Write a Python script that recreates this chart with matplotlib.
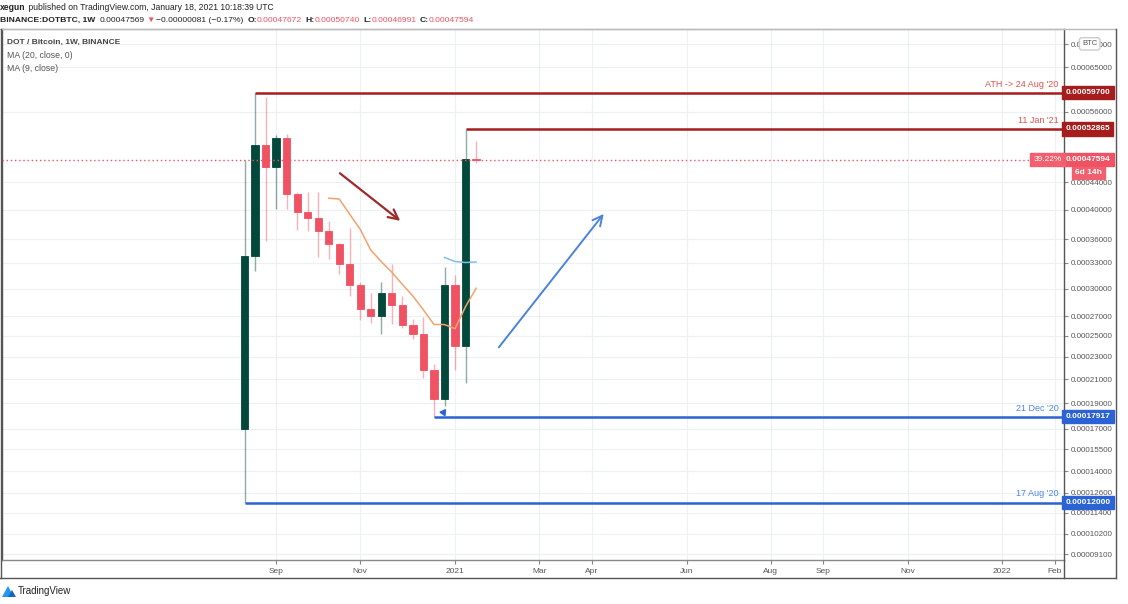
import matplotlib
matplotlib.use('Agg')
import matplotlib.pyplot as plt
import matplotlib.dates as mdates
from matplotlib.lines import Line2D
from matplotlib.patches import Polygon
import numpy as np
import pandas as pd

plt.rcParams['font.family'] = ['Liberation Sans', 'DejaVu Sans']

# DOT/BTC weekly candles (Binance, 1W)
weeks = pd.date_range('2020-08-17', periods=23, freq='7D')
opens = [0.000170, 0.000339, 0.000501, 0.000464, 0.000513, 0.000423, 0.000396,
         0.000388, 0.000370, 0.000353, 0.000329, 0.000304, 0.000278, 0.000270,
         0.000295, 0.000282, 0.000261, 0.000252, 0.000218, 0.000193, 0.000304,
         0.000240, 0.00047672]
highs = [0.000475, 0.000597, 0.000588, 0.000518, 0.000520, 0.000425, 0.000426,
         0.000426, 0.000384, 0.000355, 0.000375, 0.000308, 0.000295, 0.000308,
         0.000329, 0.000292, 0.000267, 0.000269, 0.000224, 0.000325, 0.000315,
         0.00052865, 0.00050740]
lows = [0.000120, 0.000320, 0.000357, 0.000401, 0.000401, 0.000372, 0.000371,
        0.000337, 0.000335, 0.000317, 0.000292, 0.000266, 0.000263, 0.000252,
        0.000262, 0.000258, 0.000247, 0.000211, 0.00017917, 0.000188, 0.000218,
        0.000207, 0.00046991]
closes = [0.000339, 0.000501, 0.000464, 0.000513, 0.000423, 0.000396, 0.000388,
          0.000370, 0.000353, 0.000329, 0.000304, 0.000278, 0.000270, 0.000295,
          0.000282, 0.000261, 0.000252, 0.000218, 0.000193, 0.000304, 0.000240,
          0.00047672, 0.00047594]

ma_fast_len = 9
ma_slow_len = 20

# levels drawn on the chart: (price, start week, label, colour)
levels = [
    (0.00059700, '2020-08-24', "ATH -> 24 Aug '20", 'red'),
    (0.00052865, '2021-01-11', "11 Jan '21", 'red'),
    (0.00017917, '2020-12-21', "21 Dec '20", 'blue'),
    (0.00012000, '2020-08-17', "17 Aug '20", 'blue'),
]
last_price = 0.00047594
last_change = '39.22%'
time_left = '6d 14h'

# hand drawn arrows: (start date, start price, end date, end price)
arrow_down = ('2020-10-18', 0.000457, '2020-11-30', 0.000382)
arrow_up = ('2021-02-01', 0.000237, '2021-04-14', 0.000397)
rocket = ('2020-12-27', 0.0001826)

price_ticks = [0.00070, 0.00065, 0.00056, 0.00044, 0.00040, 0.00036, 0.00033,
               0.00030, 0.00027, 0.00025, 0.00023, 0.00021, 0.00019, 0.00017,
               0.000155, 0.00014, 0.000126, 0.000114, 0.000102, 0.000091]
time_ticks = ['2020-09-07', '2020-11-02', '2021-01-04', '2021-03-01', '2021-04-05',
              '2021-06-07', '2021-08-02', '2021-09-06', '2021-11-01', '2022-01-03',
              '2022-02-07']
time_labels = ['Sep', 'Nov', '2021', 'Mar', 'Apr', 'Jun', 'Aug', 'Sep', 'Nov',
               '2022', 'Feb']

GREEN = '#03493b'
RED = '#ef5262'
DARKRED = '#a61d1d'
BLUE = '#2c63d4'
GRID = '#edf1f6'
TXT = '#555555'

W, H = 1128, 604


def fx(px):
    return px / W


def fy(py):
    return 1 - py / H


def d(s):
    return mdates.date2num(pd.Timestamp(s))


fig = plt.figure(figsize=(W / 100, H / 100), dpi=100)
ax = fig.add_axes([fx(2), fy(560), (1064 - 2) / W, (560 - 29) / H])

# price axis of tradingview log mode
OFF = 0.00009
ax.set_yscale('function', functions=(lambda v: np.log(np.maximum(v + OFF, 1e-9)),
                                     lambda u: np.exp(u) - OFF))
x0 = mdates.date2num(weeks[0])
ax.set_xlim(x0 - 161.3, x0 + 545)
ax.set_ylim(0.0000879, 0.000736)

xs = mdates.date2num(weeks)
o = np.array(opens)
c = np.array(closes)
up = c >= o
for i in range(len(xs)):
    col = GREEN if up[i] else RED
    ax.vlines(xs[i], lows[i], highs[i], color=col, alpha=0.45, lw=1, zorder=3)
    ax.bar(xs[i], abs(c[i] - o[i]), bottom=min(o[i], c[i]), width=4.8,
           color=col, edgecolor=col, lw=0.6, zorder=4)

# moving averages
ser = pd.Series(closes, index=xs)
ma_fast = ser.rolling(ma_fast_len).mean()
ma_slow = ser.rolling(ma_slow_len).mean()
ax.plot(ma_fast.index, ma_fast.values, color='#f3a26d', lw=1.1, zorder=5)
ax.plot(ma_slow.index, ma_slow.values, color='#7fbdf0', lw=1.1, zorder=5)

# levels
xmax = ax.get_xlim()[1]
for price, start, label, kind in levels:
    col = DARKRED if kind == 'red' else BLUE
    lab_col = '#e0504e' if kind == 'red' else '#4d86e6'
    ax.hlines(price, d(start), xmax, color=col, lw=1.8, zorder=6)
    ax.annotate(label, xy=(0.995, price), xycoords=('axes fraction', 'data'),
                xytext=(0, 3), textcoords='offset points', ha='right', va='bottom',
                fontsize=6.5, color=lab_col, zorder=7)
    ax.text(1.0015, price, '%.8f' % price, transform=ax.get_yaxis_transform(),
            ha='left', va='center', fontsize=6, color='white', weight='bold',
            clip_on=False, zorder=10,
            bbox=dict(boxstyle='square,pad=0.38', fc=col, ec=col))

ax.axhline(last_price, color=RED, lw=1, ls=(0, (1, 2)), zorder=6)
ax.text(1.0015, last_price, '%.8f' % last_price, transform=ax.get_yaxis_transform(),
        ha='left', va='center', fontsize=6, color='white', weight='bold',
        clip_on=False, zorder=10,
        bbox=dict(boxstyle='square,pad=0.38', fc=RED, ec=RED))
ax.text(0.998, last_price, last_change, transform=ax.get_yaxis_transform(),
        ha='right', va='center', fontsize=6, color='white', clip_on=False, zorder=10,
        bbox=dict(boxstyle='square,pad=0.38', fc='#f0606e', ec='#f0606e'))
ax.annotate(time_left, xy=(1.0105, last_price), xycoords=('axes fraction', 'data'),
            xytext=(0, -9.5), textcoords='offset points', ha='left', va='center',
            fontsize=6, color='white', weight='bold', annotation_clip=False, zorder=10,
            bbox=dict(boxstyle='square,pad=0.35', fc='#f0606e', ec='#f0606e'))

# arrows
ax.annotate('', xy=(d(arrow_down[2]), arrow_down[3]),
            xytext=(d(arrow_down[0]), arrow_down[1]),
            arrowprops=dict(arrowstyle='->,head_length=0.7,head_width=0.35',
                            color='#9e2a2a', lw=1.6), zorder=8)
ax.annotate('', xy=(d(arrow_up[2]), arrow_up[3]),
            xytext=(d(arrow_up[0]), arrow_up[1]),
            arrowprops=dict(arrowstyle='->,head_length=0.7,head_width=0.35',
                            color='#4a82e0', lw=1.4), zorder=8)
ax.plot(d(rocket[0]), rocket[1], marker=(3, 0, -35), ms=5, color=BLUE, zorder=8)

# axes styling
ax.yaxis.tick_right()
ax.set_yticks(price_ticks)
ax.set_yticklabels(['%.8f' % v for v in price_ticks])
ax.yaxis.set_minor_locator(matplotlib.ticker.NullLocator())
ax.set_xticks([d(t) for t in time_ticks])
ax.set_xticklabels(time_labels)
ax.tick_params(axis='y', labelsize=5.8, labelcolor=TXT, color='#888888', length=3, pad=2)
ax.tick_params(axis='x', labelsize=6, labelcolor=TXT, color='#888888', length=3, pad=3)
ax.grid(True, color=GRID, lw=0.9, zorder=0)
ax.set_axisbelow(True)
for side, col in [('left', '#555555'), ('top', '#bbbbbb'), ('right', '#555555'),
                  ('bottom', '#888888')]:
    ax.spines[side].set_color(col)
    ax.spines[side].set_linewidth(1)

# currency badge on the price scale
ax.text(1.017, 0.972, 'BTC', transform=ax.transAxes, ha='left', va='center',
        fontsize=5.5, color=TXT, clip_on=False, zorder=11,
        bbox=dict(boxstyle='round,pad=0.35', fc='white', ec='#cccccc'))

# legend block in the chart
ax.text(0.005, 0.975, 'DOT / Bitcoin, 1W, BINANCE', transform=ax.transAxes,
        fontsize=6.0, color='#444444', weight='bold', va='center')
ax.text(0.005, 0.950, 'MA (20, close, 0)', transform=ax.transAxes,
        fontsize=6.3, color=TXT, va='center')
ax.text(0.005, 0.926, 'MA (9, close)', transform=ax.transAxes,
        fontsize=6.3, color=TXT, va='center')

# frame around the price and time axes
frame = [((0, 1116), (29, 29), '#bbbbbb'), ((1116, 1116), (29, 578), '#555555'),
         ((0, 1116), (578, 578), '#555555'), ((1, 1), (29, 578), '#555555'),
         ((1064, 1064), (560, 578), '#555555')]
for (xa, xb), (ya, yb), col in frame:
    fig.add_artist(Line2D([fx(xa), fx(xb)], [fy(ya), fy(yb)], color=col, lw=1))


# header
def chain(parts, x, y, size):
    t = fig.text(x, y, parts[0][0], color=parts[0][1], weight=parts[0][2],
                 fontsize=size, va='center')
    for s, col, wt, gap in parts[1:]:
        t = ax.annotate(s, xy=(1, 0.5), xycoords=t, xytext=(gap, 0),
                        textcoords='offset points', va='center', fontsize=size,
                        color=col, weight=wt, annotation_clip=False)
    return t


chain([('xegun', '#222222', 'bold'),
       (' published on TradingView.com, January 18, 2021 10:18:39 UTC', '#222222', 'normal', 0)],
      fx(0), fy(8), 6.2)
chain([('BINANCE:DOTBTC, 1W', '#222222', 'bold'),
       ('0.00047569', '#222222', 'normal', 3),
       ('\u25bc', RED, 'normal', 1.5),
       ('\u22120.00000081 (\u22120.17%)', '#222222', 'normal', 1),
       ('O:', '#222222', 'bold', 2.5), ('0.00047672', RED, 'normal', 0),
       ('H:', '#222222', 'bold', 2.5), ('0.00050740', RED, 'normal', 0),
       ('L:', '#222222', 'bold', 2.5), ('0.00046991', RED, 'normal', 0),
       ('C:', '#222222', 'bold', 2.5), ('0.00047594', RED, 'normal', 0)],
      fx(0), fy(20), 6.1)

# tradingview logo
fig.add_artist(Polygon([[fx(2), fy(597)], [fx(8), fy(586)], [fx(14), fy(597)]],
                       closed=True, fc='#2196f3', ec='none', transform=fig.transFigure))
fig.add_artist(Polygon([[fx(8), fy(597)], [fx(12), fy(590)], [fx(16), fy(597)]],
                       closed=True, fc='#1565c0', ec='none', transform=fig.transFigure))
fig.text(fx(18), fy(591), 'TradingView', fontsize=7, color='#222222', va='center')

fig.savefig('out.png', dpi=100)
